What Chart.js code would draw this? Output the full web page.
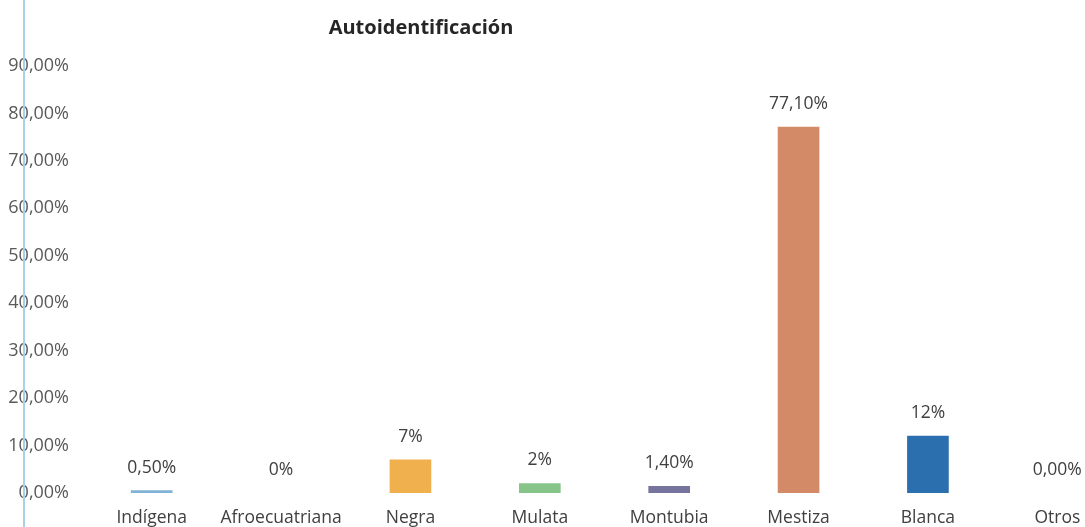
<!DOCTYPE html>
<html lang="es">
<head>
  <meta charset="UTF-8" />
  <title>Autoidentificación</title>
  <script src="https://cdn.jsdelivr.net/npm/chart.js"></script>
  <style>
    html, body { margin: 0; padding: 0; background: #fff; overflow: hidden; }
    .wrap { position: relative; width: 1085px; height: 527px; overflow: hidden; }
    .chart-box { position: absolute; left: 0; top: 0; width: 1122px; height: 527px; }
    .title {
      position: absolute; left: 421px; top: 13px; transform: translateX(-50%);
      font-family: "Open Sans", sans-serif; font-weight: 700; font-size: 20px; color: #262626;
      white-space: nowrap;
    }
    /* thin blue margin line on the left of the scan */
    .edge { position: absolute; left: 23px; top: 0; width: 2px; height: 527px; background: #a9d0e6; }
  </style>
</head>
<body>
<div class="wrap">
  <div class="chart-box"><canvas id="chart"></canvas></div>
  <div class="edge"></div>
  <div class="title">Autoidentificación</div>
</div>

<script>
  // data
  const categories = ['Indígena', 'Afroecuatriana', 'Negra', 'Mulata', 'Montubia', 'Mestiza', 'Blanca', 'Otros'];
  const values = [0.5, 0, 7, 2, 1.4, 77.1, 12, 0];
  const valueLabels = ['0,50%', '0%', '7%', '2%', '1,40%', '77,10%', '12%', '0,00%'];
  // zero-height bars get no colour so no hairline shows
  const barColors = ['#7fb2d4', 'rgba(0,0,0,0)', '#f0b04e', '#86c48a', '#76739d', '#d38a66', '#2b6fae', 'rgba(0,0,0,0)'];

  const font = '"Open Sans", sans-serif';

  // draws the value text above each bar
  const valueLabelPlugin = {
    id: 'valueLabels',
    afterDatasetsDraw(chart) {
      const ctx = chart.ctx;
      const meta = chart.getDatasetMeta(0);
      ctx.save();
      ctx.font = '17.5px ' + font;
      ctx.fillStyle = '#404040';
      ctx.textAlign = 'center';
      ctx.textBaseline = 'middle';
      meta.data.forEach((bar, i) => {
        ctx.fillText(valueLabels[i], bar.x, bar.y - 23);
      });
      ctx.restore();
    }
  };

  new Chart(document.getElementById('chart'), {
    type: 'bar',
    data: {
      labels: categories,
      datasets: [{
        data: values,
        backgroundColor: barColors,
        borderWidth: 0,
        barThickness: 41
      }]
    },
    options: {
      responsive: true,
      maintainAspectRatio: false,
      animation: false,
      layout: { padding: { top: 66, right: 0, bottom: 0, left: 0 } },
      plugins: {
        legend: { display: false },
        tooltip: { enabled: false },
        title: { display: false }
      },
      scales: {
        x: {
          grid: { display: false, drawTicks: false },
          border: { display: false },
          ticks: {
            padding: 15,
            maxRotation: 0,
            autoSkip: false,
            color: '#404040',
            font: { family: font, size: 17.5 }
          },
          afterFit(scale) { scale.height = 34; }
        },
        y: {
          min: 0,
          max: 90,
          grid: { display: false, drawTicks: false },
          border: { display: false },
          ticks: {
            stepSize: 10,
            padding: 18,
            color: '#595959',
            font: { family: font, size: 18 },
            callback: v => v.toFixed(2).replace('.', ',') + '%'
          },
          afterFit(scale) { scale.width = 87; }
        }
      }
    },
    plugins: [valueLabelPlugin]
  });
</script>
</body>
</html>
